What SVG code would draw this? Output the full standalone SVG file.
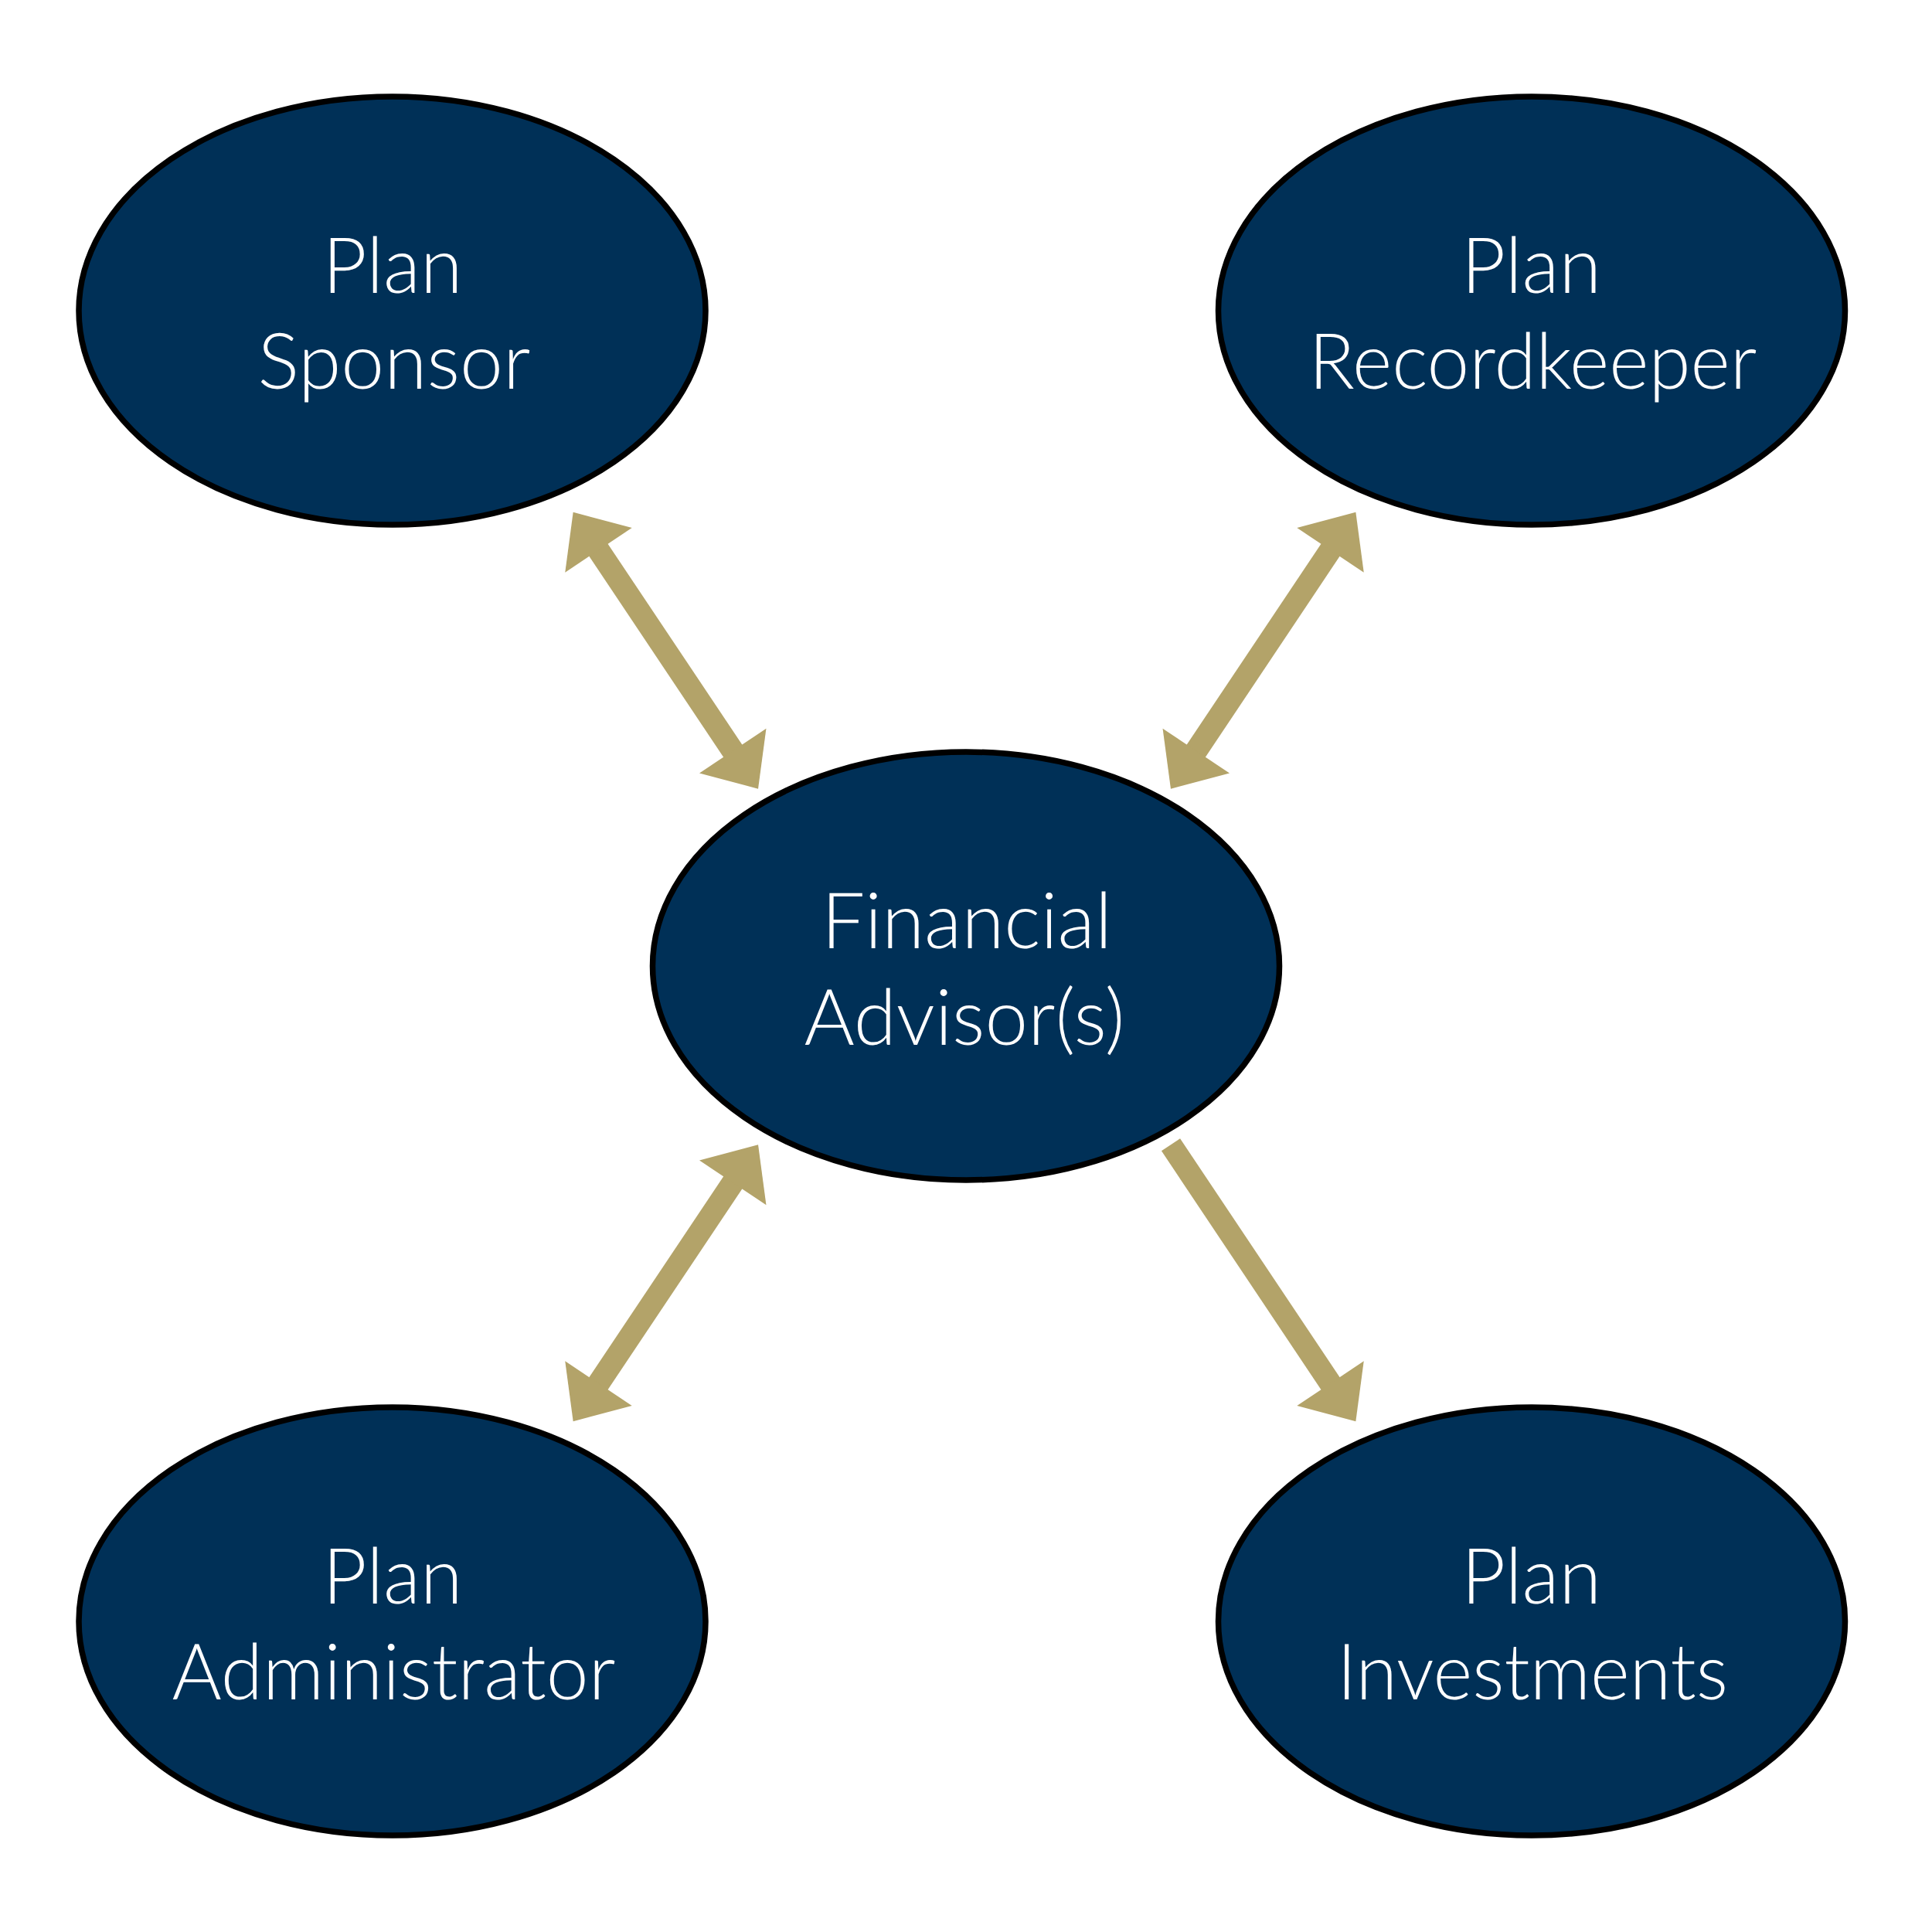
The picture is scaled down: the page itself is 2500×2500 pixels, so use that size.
<svg xmlns="http://www.w3.org/2000/svg" width="2500" height="2500" viewBox="0 0 2500 2500">
  <style>
    .node ellipse { fill: #003057; stroke: #000000; stroke-width: 7.5; }
    .node text { fill: #ffffff; font-family: Lato, "Open Sans", "Noto Sans", sans-serif; font-weight: 300; font-size: 101px; text-anchor: middle; }
    .conn { fill: none; stroke: #B3A369; stroke-width: 29; stroke-linecap: butt; }
  </style>
  <defs>
    <marker id="head" markerUnits="userSpaceOnUse" viewBox="-3 -52 59 104" refX="0" refY="0" markerWidth="59" markerHeight="104" orient="auto-start-reverse" overflow="visible">
      <path d="M-3,-52 L56,0 L-3,52 Z" fill="#B3A369"/>
    </marker>
  </defs>
  <rect width="2500" height="2500" fill="#ffffff"/>

  <g id="connectors">
    <path class="conn" d="M772.8,709.3 L949.9,974.1" marker-start="url(#head)" marker-end="url(#head)"/>
    <path class="conn" d="M1723.2,709.3 L1546.1,974.1" marker-start="url(#head)" marker-end="url(#head)"/>
    <path class="conn" d="M949.9,1527.9 L772.8,1792.7" marker-start="url(#head)" marker-end="url(#head)"/>
    <path class="conn" d="M1515,1481.3 L1723.2,1792.7" marker-end="url(#head)"/>
  </g>

  <g id="plan-sponsor" class="node">
    <ellipse cx="507.5" cy="402" rx="405.5" ry="277"/>
    <text><tspan x="508" y="379" textLength="181" lengthAdjust="spacingAndGlyphs">Plan</tspan><tspan x="510" y="503" textLength="353" lengthAdjust="spacingAndGlyphs">Sponsor</tspan></text>
  </g>

  <g id="plan-recordkeeper" class="node">
    <ellipse cx="1982" cy="402" rx="405.5" ry="277"/>
    <text><tspan x="1981.5" y="379" textLength="181" lengthAdjust="spacingAndGlyphs">Plan</tspan><tspan x="1983.5" y="503" textLength="580" lengthAdjust="spacingAndGlyphs">Recordkeeper</tspan></text>
  </g>

  <g id="financial-advisor" class="node">
    <ellipse cx="1250" cy="1250" rx="405.5" ry="277"/>
    <text><tspan x="1251" y="1227" textLength="376" lengthAdjust="spacingAndGlyphs">Financial</tspan><tspan x="1248" y="1352" textLength="415" lengthAdjust="spacingAndGlyphs">Advisor(s)</tspan></text>
  </g>

  <g id="plan-administrator" class="node">
    <ellipse cx="507.5" cy="2098" rx="405.5" ry="277"/>
    <text><tspan x="508" y="2075" textLength="181" lengthAdjust="spacingAndGlyphs">Plan</tspan><tspan x="509.5" y="2199" textLength="574" lengthAdjust="spacingAndGlyphs">Administrator</tspan></text>
  </g>

  <g id="plan-investments" class="node">
    <ellipse cx="1982" cy="2098" rx="405.5" ry="277"/>
    <text><tspan x="1981.5" y="2075" textLength="181" lengthAdjust="spacingAndGlyphs">Plan</tspan><tspan x="1983" y="2199" textLength="506" lengthAdjust="spacingAndGlyphs">Investments</tspan></text>
  </g>
</svg>
